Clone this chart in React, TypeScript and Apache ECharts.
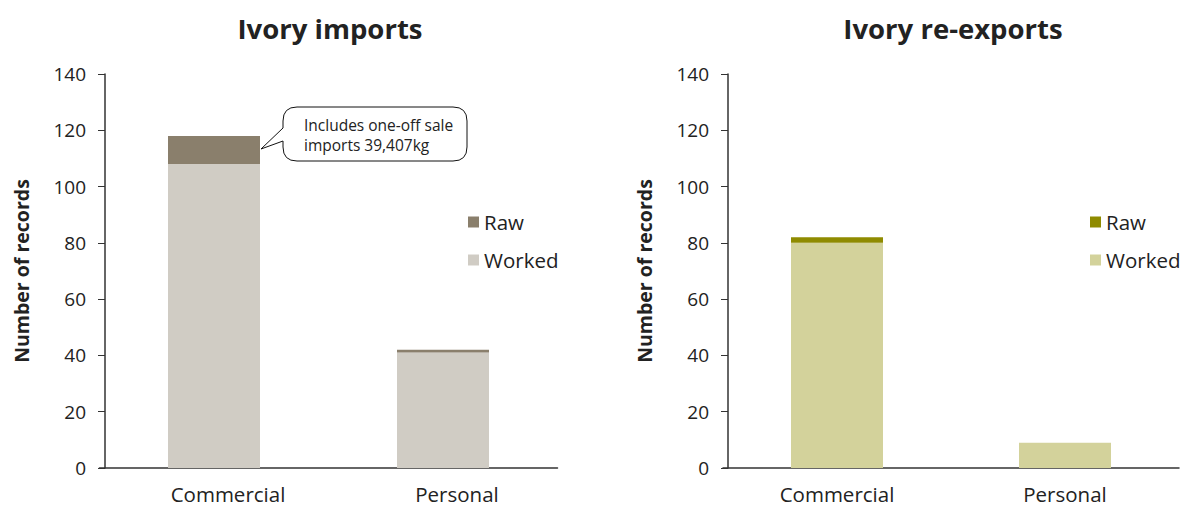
import React, { useEffect, useRef } from "react";
import * as echarts from "echarts";

const categories = ["Commercial", "Personal"];
const yTicks = { min: 0, max: 140, interval: 20 };
const importsWorked = [108, 41];
const importsRaw = [10, 1];
const reexportsWorked = [80, 9];
const reexportsRaw = [2, 0];
const titles = ["Ivory imports", "Ivory re-exports"];
const yAxisName = "Number of records";
const calloutLines = ["Includes one-off sale", "imports 39,407kg"];

const colors = {
  impRaw: "#8a7f6c",
  impWorked: "#d0ccc4",
  expRaw: "#8f8b00",
  expWorked: "#d3d29b",
};

const FONT = "'Open Sans', 'Noto Sans', sans-serif";

const calloutPath =
  "M 297 107 L 453 107 Q 467 107 467 121 L 467 147 Q 467 161 453 161 L 297 161 Q 283 161 283 147 L 283 141 L 261 149 L 283 128 L 283 121 Q 283 107 297 107 Z";

export default function App() {
  const ref = useRef<HTMLDivElement>(null);
  useEffect(() => {
    if (!ref.current) return;
    echarts.graphic.registerShape("callout", echarts.graphic.extendPath(calloutPath, {}));
    const chart = echarts.init(ref.current, null, { renderer: "svg" });
    const grids = [
      { left: 99.5, top: 74, width: 458, height: 394 },
      { left: 723, top: 74, width: 456, height: 394 },
    ];
    const yOffsets = [-5.5, -5];
    const labelPads = [[0, 0, 0, 28], [0, 0, 0, 0]];
    const xAxes = grids.map((_, i) => ({
      type: "category",
      gridIndex: i,
      data: categories,
      axisLine: { lineStyle: { color: "#333", width: 1.5 } },
      axisTick: { show: false },
      axisLabel: { fontSize: 20.5, color: "#222", margin: 15, fontFamily: FONT, padding: labelPads[i] },
    }));
    const yAxes = grids.map((_, i) => ({
      type: "value",
      gridIndex: i,
      offset: yOffsets[i],
      min: yTicks.min,
      max: yTicks.max,
      interval: yTicks.interval,
      name: yAxisName,
      nameLocation: "middle",
      nameRotate: 90,
      nameGap: 74,
      nameTextStyle: { fontSize: 19.5, fontWeight: "bold", color: "#222", fontFamily: FONT },
      axisLine: { show: true, lineStyle: { color: "#333", width: 1.5 } },
      axisTick: { show: true, length: 7, lineStyle: { color: "#333" } },
      splitLine: { show: false },
      axisLabel: { fontSize: 19, color: "#222", margin: 19, fontFamily: FONT },
    }));
    const barCommon = { type: "bar", barWidth: 92 };
    chart.setOption({
      animation: false,
      title: [
        {
          text: titles[0],
          left: 325,
          top: 9,
          textAlign: "center",
          textStyle: { fontSize: 27.5, fontWeight: "bold", color: "#222", fontFamily: FONT },
        },
        {
          text: titles[1],
          left: 948,
          top: 9,
          textAlign: "center",
          textStyle: { fontSize: 27.5, fontWeight: "bold", color: "#222", fontFamily: FONT },
        },
      ],
      grid: grids,
      xAxis: xAxes,
      yAxis: yAxes,
      legend: [
        {
          orient: "vertical",
          left: 463,
          top: 205,
          itemWidth: 11,
          itemHeight: 11,
          itemGap: 14,
          icon: "rect",
          selectedMode: false,
          textStyle: { fontSize: 20.5, color: "#222", fontFamily: FONT, lineHeight: 24 },
          data: [
            { name: "Raw", itemStyle: { color: colors.impRaw } },
            { name: "Worked", itemStyle: { color: colors.impWorked } },
          ],
        },
        {
          orient: "vertical",
          left: 1085,
          top: 205,
          itemWidth: 11,
          itemHeight: 11,
          itemGap: 14,
          icon: "rect",
          selectedMode: false,
          textStyle: { fontSize: 20.5, color: "#222", fontFamily: FONT, lineHeight: 24 },
          data: [
            { name: "Raw", itemStyle: { color: colors.expRaw } },
            { name: "Worked", itemStyle: { color: colors.expWorked } },
          ],
        },
      ],
      series: [
        { ...barCommon, name: "Worked", stack: "a", xAxisIndex: 0, yAxisIndex: 0, data: importsWorked, itemStyle: { color: colors.impWorked } },
        { ...barCommon, name: "Raw", stack: "a", xAxisIndex: 0, yAxisIndex: 0, data: importsRaw, itemStyle: { color: colors.impRaw } },
        { ...barCommon, name: "Worked", stack: "b", xAxisIndex: 1, yAxisIndex: 1, data: reexportsWorked, itemStyle: { color: colors.expWorked } },
        { ...barCommon, name: "Raw", stack: "b", xAxisIndex: 1, yAxisIndex: 1, data: reexportsRaw, itemStyle: { color: colors.expRaw } },
      ],
      graphic: [
        {
          type: "callout",
          x: 0,
          y: 0,
          z: 100,
          shape: {},
          style: { fill: "#fff", stroke: "#111", lineWidth: 1 },
        },
        {
          type: "text",
          left: 304,
          top: 115,
          z: 101,
          style: {
            text: calloutLines.join("\n"),
            fontSize: 15.5,
            lineHeight: 20,
            fill: "#222",
            fontFamily: FONT,
          },
        },
      ],
    });
    return () => chart.dispose();
  }, []);
  return (
    <div
      ref={ref}
      style={{ position: "absolute", left: 0, top: 0, width: 1184, height: 506, background: "#fff" }}
    />
  );
}
